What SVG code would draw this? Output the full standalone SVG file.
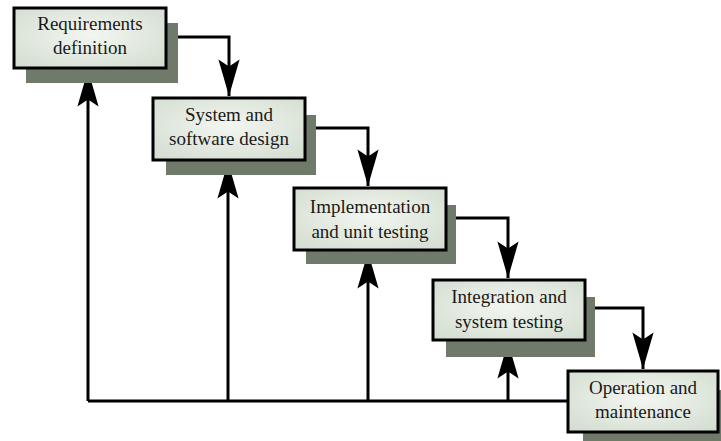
<svg xmlns="http://www.w3.org/2000/svg" width="721" height="441" viewBox="0 0 721 441">
<defs>
<radialGradient id="g" cx="0.5" cy="0.45" r="0.7">
<stop offset="0" stop-color="#f3f6f1"/>
<stop offset="1" stop-color="#d3ddd0"/>
</radialGradient>
<marker id="ah" markerUnits="userSpaceOnUse" markerWidth="40" markerHeight="30" viewBox="-32 -12 34 24" refX="0" refY="0" orient="auto">
<path d="M0,0 L-31,-9 L-25,0 L-31,9 Z" fill="#000"/>
</marker>
<style>
.sh{fill:#6f7a6b}
.bx{fill:url(#g);stroke:#000;stroke-width:3}
.t{font-family:"Liberation Serif","Times New Roman",serif;font-size:19px;fill:#1a1a1a;text-anchor:middle}
.c{fill:none;stroke:#000;stroke-width:3}
</style>
</defs>
<rect width="721" height="441" fill="#fff"/>
<g id="connectors">
<path class="c" d="M166,37 H229 V96" marker-end="url(#ah)"/>
<path class="c" d="M305,128 H368 V186" marker-end="url(#ah)"/>
<path class="c" d="M446,218 H508 V278" marker-end="url(#ah)"/>
<path class="c" d="M585,308 H643 V369" marker-end="url(#ah)"/>
<path class="c" d="M88,401 H568"/>
<path class="c" d="M88,401 V70" marker-end="url(#ah)"/>
<path class="c" d="M228,401 V162" marker-end="url(#ah)"/>
<path class="c" d="M368,401 V252" marker-end="url(#ah)"/>
<path class="c" d="M508,401 V342" marker-end="url(#ah)"/>
</g>
<g id="n1">
<rect class="sh" x="26" y="23" width="152" height="60"/>
<rect class="bx" x="14" y="8" width="152" height="60"/>
<text class="t" x="90" y="30">Requirements</text>
<text class="t" x="90" y="54">definition</text>
</g>
<g id="n2">
<rect class="sh" x="166" y="115" width="150" height="60"/>
<rect class="bx" x="153" y="98" width="152" height="62"/>
<text class="t" x="229" y="121">System and</text>
<text class="t" x="229" y="145">software design</text>
</g>
<g id="n3">
<rect class="sh" x="306" y="205" width="150" height="59"/>
<rect class="bx" x="294" y="188" width="152" height="62"/>
<text class="t" x="370" y="213">Implementation</text>
<text class="t" x="370" y="238">and unit testing</text>
</g>
<g id="n4">
<rect class="sh" x="446" y="297" width="149" height="60"/>
<rect class="bx" x="433" y="280" width="152" height="60"/>
<text class="t" x="509" y="303">Integration and</text>
<text class="t" x="509" y="328">system testing</text>
</g>
<g id="n5">
<rect class="sh" x="583" y="390" width="150" height="60"/>
<rect class="bx" x="568" y="371" width="150" height="61"/>
<text class="t" x="643" y="394">Operation and</text>
<text class="t" x="643" y="418">maintenance</text>
</g>
</svg>
